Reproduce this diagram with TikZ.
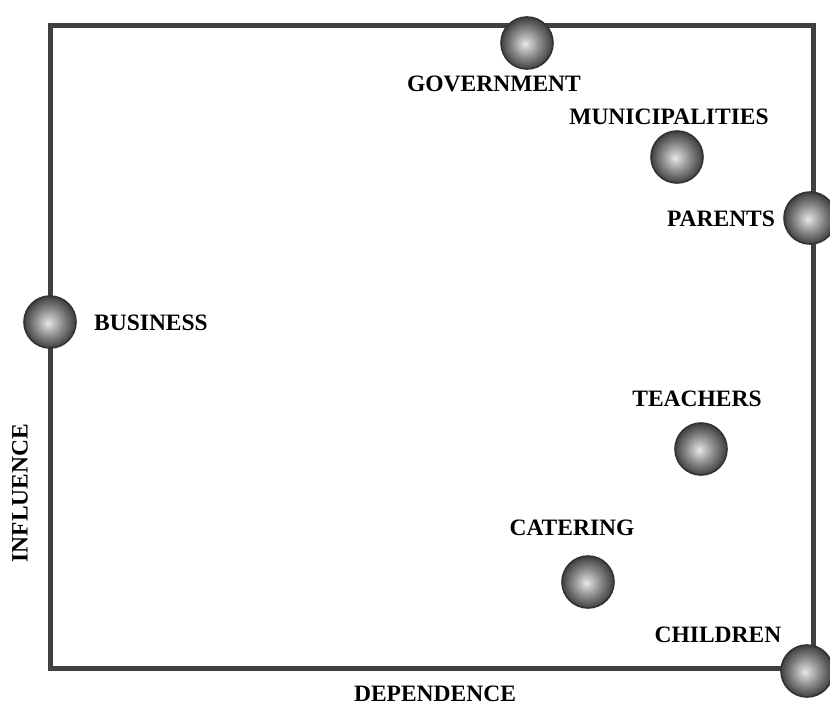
\documentclass[tikz,border=0pt]{standalone}
\usepackage{fontspec}
\setmainfont{Liberation Serif}
\pgfdeclareradialshading{sphereshade}{\pgfpoint{-2bp}{-1bp}}{%
  color(0bp)=(white!92!black);
  color(3bp)=(white!82!black);
  color(13bp)=(black!45);
  color(21bp)=(black!65);
  color(25bp)=(black!75);
  color(30bp)=(black!75)}
\definecolor{framegray}{HTML}{404040}
\tikzset{
  ball/.style={circle, minimum size=52pt, inner sep=0pt, draw=black!80, line width=1.6pt, shading=sphereshade},
  lbl/.style={font=\fontsize{23.5}{26}\selectfont\bfseries, inner sep=0pt, text=black},
  frameline/.style={draw=framegray, line width=5pt}
}
\begin{document}
\begin{tikzpicture}[x=1pt,y=-1pt]
\useasboundingbox (0,0) rectangle (830,707);
\coordinate (tl) at (50,25);
\coordinate (tr) at (813,25);
\coordinate (br) at (813,668);
\coordinate (bl) at (50,668);
\draw[frameline] (tl) -- (tr) -- (br) -- (bl) -- cycle;

\node[ball] (gov) at (527,43) {};
\node[ball] (mun) at (677,157) {};
\node[ball] (par) at (810,218) {};
\node[ball] (bus) at (50,322) {};
\node[ball] (tea) at (701,449) {};
\node[ball] (cat) at (588,582) {};
\node[ball] (chi) at (807,671) {};

\node[lbl] (govl) at (494,84) {GOVERNMENT};
\node[lbl] (munl) at (669,117) {MUNICIPALITIES};
\node[lbl] (parl) at (721,219) {PARENTS};
\node[lbl] (busl) at (151,323) {BUSINESS};
\node[lbl] (teal) at (697,399) {TEACHERS};
\node[lbl] (catl) at (572,528) {CATERING};
\node[lbl] (chil) at (718,635) {CHILDREN};
\node[lbl] (dep) at (435,694) {DEPENDENCE};
\node[lbl, rotate=90] (inf) at (20,493) {INFLUENCE};
\end{tikzpicture}
\end{document}
